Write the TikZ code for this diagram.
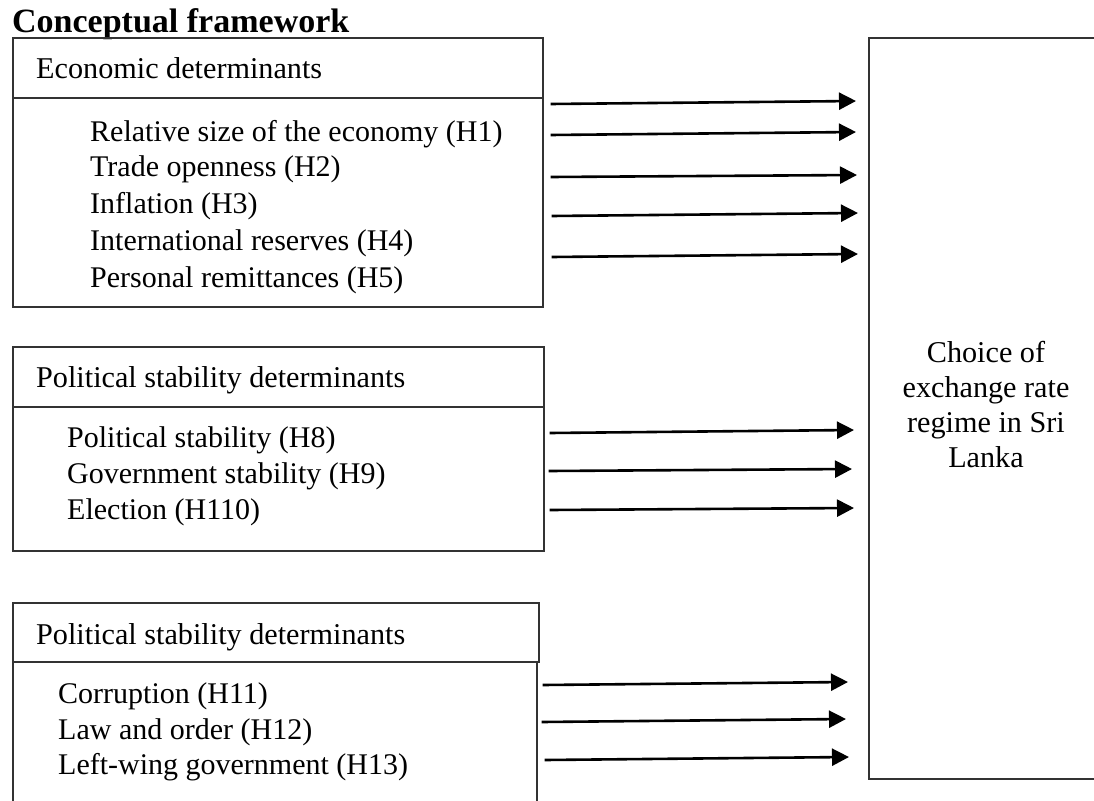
\documentclass[tikz,border=0pt]{standalone}
\usepackage{fontspec}
\setmainfont{Liberation Serif}
\usetikzlibrary{arrows.meta}
\begin{document}
\begin{tikzpicture}[x=1pt,y=-1pt,
  box/.style={draw=black!80, line width=1.7pt, rectangle, inner sep=0pt, anchor=north west},
  txt/.style={anchor=base west, inner sep=0pt, font=\fontsize{30}{35}\selectfont},
  arr/.style={line width=2.6pt, -{Triangle[length=17pt,width=17pt]}}]
\useasboundingbox (0,0) rectangle (1094,800);
\begin{scope}
\clip (0,0) rectangle (1094,800);
% title
\node[anchor=base west, inner sep=0pt, font=\fontsize{34}{40}\selectfont\bfseries] (title) at (12,33) {Conceptual framework};
% goal box
\node[box, minimum width=234pt, minimum height=741pt] (goal) at (868,37) {};
\node[align=center, inner sep=0pt, font=\fontsize{30.2}{35}\selectfont] (goaltxt) at (986,405) {Choice of\\exchange rate\\regime in Sri\\Lanka};
% box 1
\node[box, minimum width=530pt, minimum height=60pt] (h1) at (12,37) {};
\node[box, minimum width=530pt, minimum height=209pt] (b1) at (12,97) {};
\node[txt, font=\fontsize{30.2}{35}\selectfont] (h1t) at (36,78) {Economic determinants};
\node[txt] (e1) at (90,141) {Relative size of the economy (H1)};
\node[txt] (e2) at (90,176) {Trade openness (H2)};
\node[txt] (e3) at (90,213) {Inflation (H3)};
\node[txt] (e4) at (90,250) {International reserves (H4)};
\node[txt] (e5) at (90,287) {Personal remittances (H5)};
% box 2
\node[box, minimum width=531pt, minimum height=60pt] (h2) at (12,346) {};
\node[box, minimum width=531pt, minimum height=144pt] (b2) at (12,406) {};
\node[txt, font=\fontsize{30.2}{35}\selectfont] (h2t) at (36,387) {Political stability determinants};
\node[txt] (p1) at (67,447) {Political stability (H8)};
\node[txt] (p2) at (67,483) {Government stability (H9)};
\node[txt] (p3) at (67,519) {Election (H110)};
% box 3
\node[box, minimum width=526pt, minimum height=59pt] (h3) at (12,602) {};
\node[box, minimum width=524pt, minimum height=160pt] (b3) at (12,661) {};
\node[txt, font=\fontsize{30.2}{35}\selectfont] (h3t) at (36,644) {Political stability determinants};
\node[txt] (c1) at (58,703) {Corruption (H11)};
\node[txt] (c2) at (58,739) {Law and order (H12)};
\node[txt] (c3) at (58,774) {Left-wing government (H13)};
\end{scope}
% arrows box 1
\draw[arr] ([xshift=7pt]b1.east |- 0,104) -- ([xshift=-12pt]goal.west |- 0,101);
\draw[arr] ([xshift=7pt]b1.east |- 0,135) -- ([xshift=-12pt]goal.west |- 0,132);
\draw[arr] ([xshift=7pt]b1.east |- 0,177) -- ([xshift=-11pt]goal.west |- 0,175);
\draw[arr] ([xshift=8pt]b1.east |- 0,216) -- ([xshift=-10pt]goal.west |- 0,213);
\draw[arr] ([xshift=8pt]b1.east |- 0,257) -- ([xshift=-10pt]goal.west |- 0,254);
% arrows box 2
\draw[arr] ([xshift=5pt]b2.east |- 0,433) -- ([xshift=-14pt]goal.west |- 0,430);
\draw[arr] ([xshift=4pt]b2.east |- 0,471) -- ([xshift=-16pt]goal.west |- 0,469);
\draw[arr] ([xshift=5pt]b2.east |- 0,510) -- ([xshift=-14pt]goal.west |- 0,508);
% arrows box 3
\draw[arr] ([xshift=5pt]b3.east |- 0,685) -- ([xshift=-20pt]goal.west |- 0,682);
\draw[arr] ([xshift=4pt]b3.east |- 0,722) -- ([xshift=-22pt]goal.west |- 0,719);
\draw[arr] ([xshift=7pt]b3.east |- 0,760) -- ([xshift=-19pt]goal.west |- 0,757);
\end{tikzpicture}
\end{document}
